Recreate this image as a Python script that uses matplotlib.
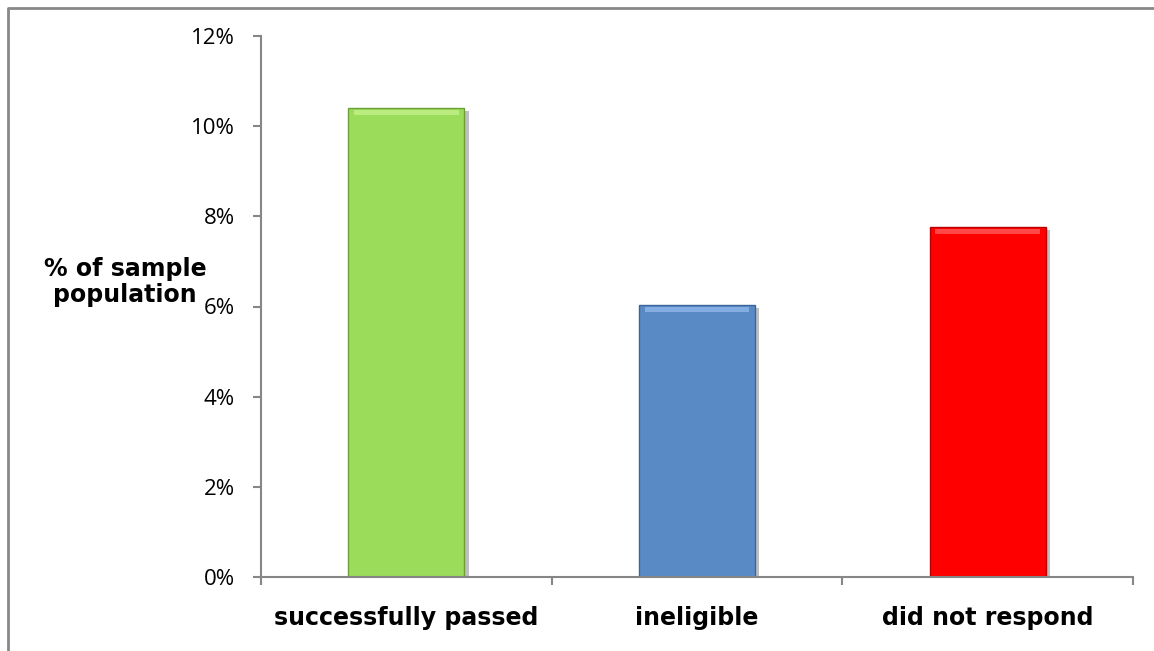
import matplotlib.pyplot as plt
import matplotlib.patheffects as pe
from matplotlib.lines import Line2D
from matplotlib.ticker import FuncFormatter

# Share of the sample population per outcome
categories = ['successfully passed', 'ineligible', 'did not respond']
shares = [10.4, 6.03, 7.76]
bar_colors = ['#9bdc5a', '#5a8ac6', '#ff0000']
edge_colors = ['#6d9f37', '#3b669c', '#b80000']
top_colors = ['#c2f18a', '#8fb8e8', '#ff5a5a']

W, H = 1154, 651
fig = plt.figure(figsize=(W / 100, H / 100), dpi=100)
ax = fig.add_axes([261 / W, 1 - 577 / H, (1133 - 261) / W, (577 - 36) / H])

x = range(len(categories))
shadow = [pe.SimplePatchShadow(offset=(3, -2), shadow_rgbFace='#000000', alpha=0.25), pe.Normal()]
bars = ax.bar(x, shares, width=0.4, color=bar_colors, edgecolor=edge_colors, linewidth=1.0, zorder=2)
for b in bars:
    b.set_path_effects(shadow)
# lighter bevel strip along the top of each bar
ax.bar(x, [0.12] * len(shares), bottom=[s - 0.16 for s in shares], width=0.36,
       color=top_colors, linewidth=0, alpha=0.8, zorder=3)

ax.set_xlim(-0.5, len(categories) - 0.5)
ax.set_ylim(0, 12)
ax.set_yticks(range(0, 13, 2))
ax.yaxis.set_major_formatter(FuncFormatter(lambda v, p: f'{v:.0f}%'))
ax.set_xticks([-0.5, 0.5, 1.5, 2.5])
ax.set_xticklabels([])
for i, c in enumerate(categories):
    ax.text(i, -0.91, c, ha='center', va='center', fontsize=17, fontweight='bold',
            family='DejaVu Sans', transform=ax.transData)

for s in ['top', 'right']:
    ax.spines[s].set_visible(False)
for s in ['left', 'bottom']:
    ax.spines[s].set_color('#868686')
    ax.spines[s].set_linewidth(1.5)
ax.tick_params(axis='both', direction='out', length=6, color='#868686', width=1.5)
ax.tick_params(axis='y', labelsize=16, pad=13)
for lab in ax.get_yticklabels():
    lab.set_family('Open Sans')

fig.text(125 / W, 1 - 282 / H, '% of sample\npopulation', ha='center', va='center',
         fontsize=17, fontweight='bold', family='DejaVu Sans', linespacing=1.1)

# outer frame on the left and top
fx = 7.5 / W
fy = 1 - 7.5 / H
fig.add_artist(Line2D([fx, fx, 1], [0, fy, fy], color='#888888', linewidth=2, transform=fig.transFigure))

fig.savefig('out.png', dpi=100)
